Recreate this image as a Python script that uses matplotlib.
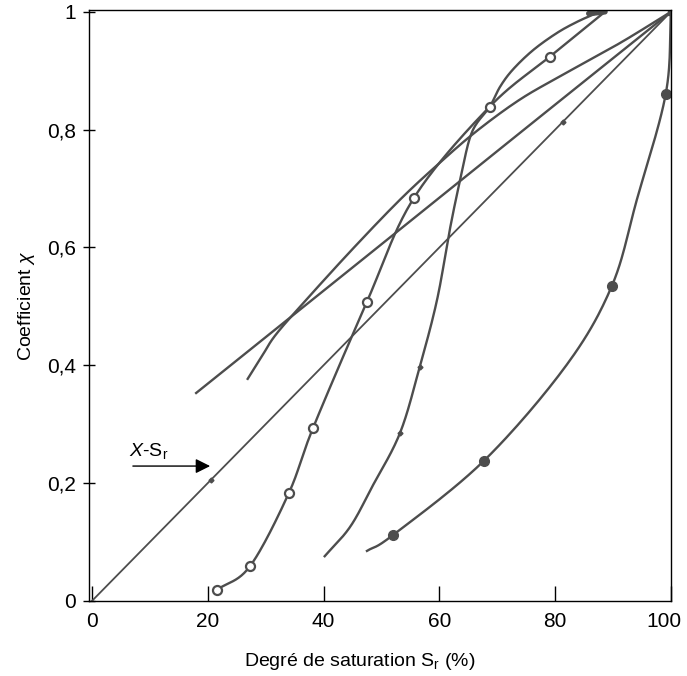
import numpy as np
import matplotlib
matplotlib.use("Agg")
import matplotlib.pyplot as plt
from matplotlib.transforms import ScaledTranslation

# ---- data (Sr in %, chi) ----
line_sr = [0, 100]
line_chi = [0.0, 1.0]
line_marks_sr = [20.5, 81.3]

lb_sr = [18.0, 36.0, 54.0, 75.0, 100.0]
lb_chi = [0.353, 0.495, 0.637, 0.803, 1.0]

curve_a_sr = [26.9, 29.4, 31.6, 35.9, 44.6, 53.2, 60.1, 66.5, 73.9, 81.3, 91.2, 100.0]
curve_a_chi = [0.377, 0.416, 0.450, 0.499, 0.593, 0.681, 0.744, 0.798, 0.851, 0.893, 0.947, 1.0]

open_sr = [21.6, 27.3, 34.0, 38.2, 47.5, 55.6, 68.7, 79.1, 88.6]
open_chi = [0.019, 0.059, 0.183, 0.294, 0.508, 0.684, 0.839, 0.924, 1.0]

s2_sr = [40.2, 44.6, 48.4, 53.2, 56.6, 59.6, 61.8, 63.6, 65.6, 68.7,
         70.5, 72.7, 76.2, 80.3, 83.8, 87.2]
s2_chi = [0.076, 0.126, 0.194, 0.285, 0.397, 0.511, 0.630, 0.715, 0.795, 0.839,
          0.873, 0.902, 0.935, 0.964, 0.983, 0.998]
s2_marks_sr = [53.2, 56.6]
s2_marks_chi = [0.285, 0.397]

filled_sr = [47.5, 52.0, 67.7, 82.0, 89.8, 94.1, 99.1, 100.0]
filled_chi = [0.085, 0.112, 0.238, 0.401, 0.535, 0.681, 0.861, 1.0]
filled_pts_sr = [52.0, 67.7, 89.8, 99.1]
filled_pts_chi = [0.112, 0.238, 0.535, 0.861]

xticks = [0, 20, 40, 60, 80, 100]
yticks = [0, 0.2, 0.4, 0.6, 0.8, 1.0]
ytick_labels = ["0", "0,2", "0,4", "0,6", "0,8", "1"]

INK = "#4d4d4d"


def smooth(xs, ys, n=24):
    """Catmull-Rom through the read points (y scaled so both axes weigh alike)."""
    pts = np.column_stack([np.asarray(xs, float), np.asarray(ys, float) * 100])
    p = np.vstack([2 * pts[0] - pts[1], pts, 2 * pts[-1] - pts[-2]])
    t = np.linspace(0, 1, n, endpoint=False)[:, None]
    segs = []
    for i in range(1, len(p) - 2):
        p0, p1, p2, p3 = p[i - 1], p[i], p[i + 1], p[i + 2]
        segs.append(0.5 * (2 * p1 + (-p0 + p2) * t
                           + (2 * p0 - 5 * p1 + 4 * p2 - p3) * t ** 2
                           + (-p0 + 3 * p1 - 3 * p2 + p3) * t ** 3))
    segs.append(pts[-1:])
    out = np.vstack(segs)
    return out[:, 0], out[:, 1] / 100


plt.rcParams["font.family"] = ["Liberation Sans", "DejaVu Sans"]
plt.rcParams["mathtext.fontset"] = "custom"
plt.rcParams["mathtext.rm"] = "Liberation Sans"
plt.rcParams["mathtext.it"] = "Liberation Sans:italic"

fig = plt.figure(figsize=(6.87, 6.76), dpi=100)
ax = fig.add_axes([89 / 687, 75 / 676, 582 / 687, 591 / 676])

ax.plot(line_sr, line_chi, color=INK, lw=1.3)
ax.plot(line_marks_sr, np.array(line_marks_sr) / 100, ls="none", marker="D", ms=2.5, color=INK)

ax.plot(*smooth(lb_sr, lb_chi), color=INK, lw=1.7)
ax.plot(*smooth(curve_a_sr, curve_a_chi), color=INK, lw=1.7)
ax.plot(*smooth(s2_sr, s2_chi), color=INK, lw=1.7)
ax.plot(s2_marks_sr, s2_marks_chi, ls="none", marker="D", ms=2.5, color=INK)
ax.plot(*smooth(open_sr, open_chi), color=INK, lw=1.7)
ax.plot(open_sr[:-1], open_chi[:-1], ls="none", marker="o", ms=6.5,
        mfc="white", mec=INK, mew=1.6)
ax.plot([85.8, open_sr[-1]], [0.997, open_chi[-1]], color=INK, lw=4, solid_capstyle="round")

ax.plot(*smooth(filled_sr, filled_chi), color=INK, lw=1.7)
ax.plot(filled_pts_sr, filled_pts_chi, ls="none", marker="o", ms=7, color=INK)
ax.plot([100], [1.0], ls="none", marker="s", ms=5, color=INK)

ax.set_xlim(-0.5, 100)
ax.set_ylim(0, 1.003)
ax.set_xticks(xticks)
ax.set_yticks(yticks)
ax.set_yticklabels(ytick_labels)
ax.tick_params(axis="x", direction="in", length=11, width=1, pad=8, labelsize=15)
ax.tick_params(axis="y", direction="inout", length=9, width=1, pad=5, labelsize=15)
for sp in ax.spines.values():
    sp.set_linewidth(1.0)

# keep "100" inside the canvas, as in the reference
last = ax.get_xticklabels()[-1]
last.set_transform(last.get_transform() + ScaledTranslation(-7 / 100, 0, fig.dpi_scale_trans))

ax.set_xlabel("Degré de saturation S$_\\mathrm{r}$ (%)", fontsize=14)
ax.xaxis.set_label_coords(0.466, -0.085)
ax.set_ylabel("Coefficient $\\chi$", fontsize=14)
ax.yaxis.set_label_coords(-0.09, 0.5)

ax.annotate("", xy=(20.9, 0.229), xytext=(6.6, 0.229),
            arrowprops=dict(arrowstyle="-|>", mutation_scale=22, lw=1.0, color="black"))
ax.text(6.4, 0.237, "$\\mathit{X}$-S$_\\mathrm{r}$", fontsize=14, ha="left", va="bottom")

fig.savefig("out.png", dpi=100)
